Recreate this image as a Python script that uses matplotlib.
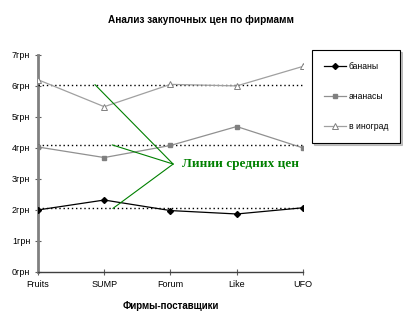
import matplotlib.pyplot as plt
import numpy as np

firms = ["Fruits", "SUMP", "Forum", "Like", "UFO"]
bananas = [2.0, 2.32, 1.98, 1.87, 2.07]
pineapples = [4.03, 3.69, 4.08, 4.69, 4.0]
grapes = [6.2, 5.33, 6.05, 6.0, 6.63]
series_names = ["бананы", "ананасы", "в иноград"]
yticks = [0, 1, 2, 3, 4, 5, 6, 7]
ytick_labels = ["%dгрн" % v for v in yticks]

# where the green pointers end on the mean lines (bananas, pineapples, grapes)
pointer_x = [1.13, 1.12, 0.86]


def main():
    fig = plt.figure(figsize=(4.03, 3.23), dpi=100)
    ax = fig.add_axes([0.0943, 0.158, 0.6575, 0.672])
    x = np.arange(len(firms))

    ax.plot(x, bananas, color="black", lw=0.9, marker="D", ms=3,
            mfc="black", mec="black", label=series_names[0], zorder=4)
    ax.plot(x, pineapples, color="#909090", lw=0.9, marker="s", ms=3.5,
            mfc="#808080", mec="#808080", label=series_names[1], zorder=4)
    ax.plot(x, grapes, color="#a0a0a0", lw=0.9, marker="^", ms=4.5,
            mfc="white", mec="#808080", mew=0.7, label=series_names[2], zorder=4)

    # mean lines
    means = [np.mean(bananas), np.mean(pineapples), np.mean(grapes)]
    for m in means:
        ax.plot([x[0], x[-1]], [m, m], color="black", ls=(0, (1, 2)), lw=1, zorder=3)

    # green label with pointers
    tx, ty = 2.04, 3.48
    for px, m in zip(pointer_x, means):
        ax.annotate("", xy=(px, m), xytext=(tx, ty),
                    arrowprops=dict(arrowstyle="-", color="#008000", lw=0.8,
                                    shrinkA=0, shrinkB=0), zorder=5)
    ax.text(tx + 0.14, ty, "Линии средних цен", color="#008000",
            family="Liberation Serif", fontweight="bold", fontsize=9.5,
            va="center", ha="left", zorder=6)

    ax.set_xlim(x[0], x[-1])
    ax.set_ylim(0, 7)
    ax.set_xticks(x)
    ax.set_xticklabels(firms, family="Liberation Sans", fontsize=6.5)
    ax.set_yticks(yticks)
    ax.set_yticklabels(ytick_labels, family="Liberation Sans", fontsize=6.5)
    ax.tick_params(axis="both", direction="inout", length=5, width=0.8,
                   color="#606060", pad=3)

    for side in ["top", "right"]:
        ax.spines[side].set_visible(False)
    ax.spines["left"].set_color("#808080")
    ax.spines["left"].set_linewidth(2)
    ax.spines["bottom"].set_color("#404040")
    ax.spines["bottom"].set_linestyle((0, (1, 1)))
    ax.spines["bottom"].set_linewidth(1)

    fig.text(0.5, 0.937, "Анализ закупочных цен по фирмамм", ha="center", va="center",
             family="Liberation Sans", fontweight="bold", fontsize=7.2)
    ax.set_xlabel("Фирмы-поставщики", family="Liberation Sans", fontweight="bold",
                  fontsize=7, labelpad=9)

    leg = fig.legend(loc="upper left", bbox_to_anchor=(0.774, 0.845),
                     borderaxespad=0,
                     prop={"family": "Liberation Sans", "size": 6.2},
                     frameon=True, fancybox=False, edgecolor="black",
                     shadow={"ox": 1.2, "oy": -1.2, "color": "#909090"},
                     borderpad=1.4, labelspacing=2.45, handlelength=2.5,
                     handletextpad=0.35)
    leg.get_frame().set_linewidth(0.8)

    fig.savefig("out.png", dpi=100)


if __name__ == "__main__":
    main()
